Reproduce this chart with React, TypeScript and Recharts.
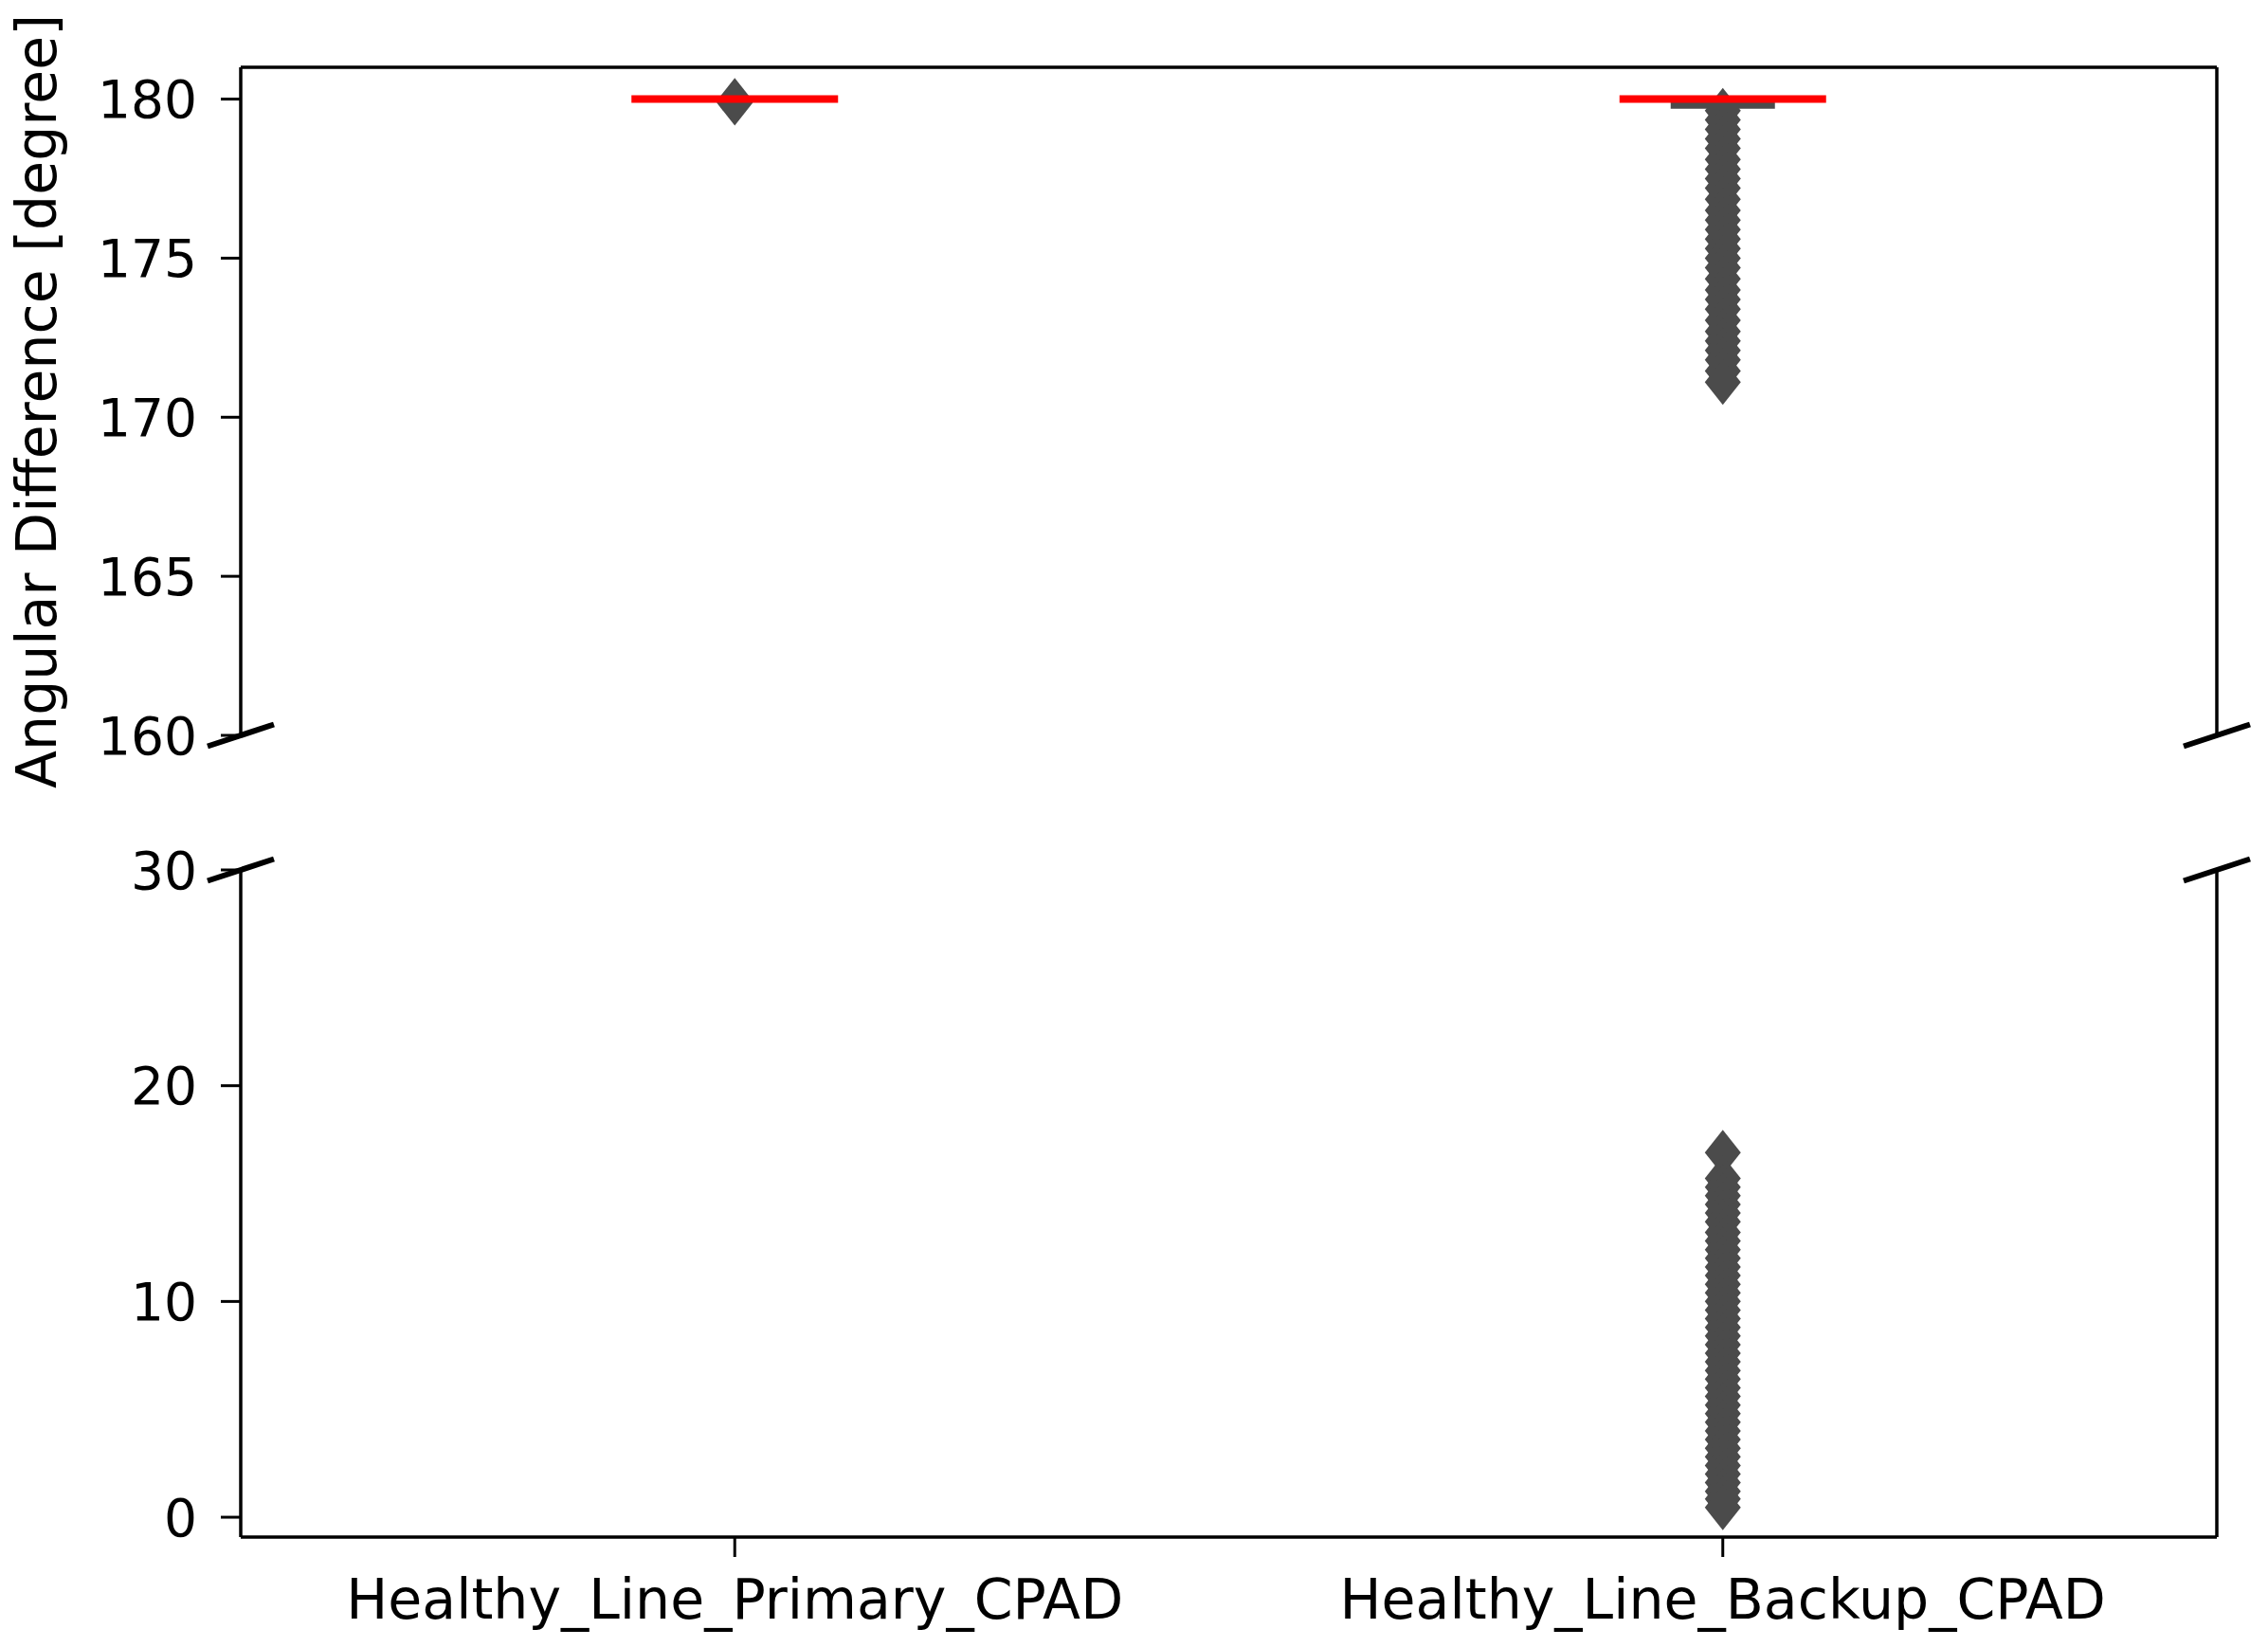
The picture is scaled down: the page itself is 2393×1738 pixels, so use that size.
import React from "react";
import { ScatterChart, Scatter, XAxis, YAxis } from "recharts";

const categories = ["Healthy_Line_Primary_CPAD", "Healthy_Line_Backup_CPAD"];
const medians = [180.0, 180.0];
const capsLow = [180.0, 179.8];
const capsHigh = [180.0, 180.0];

// outliers above the break (160-181)
const primaryTopOutliers = [179.95, 179.88];
const backupTopOutliers = [
  179.64, 179.35, 179.05, 178.75, 178.45, 178.1, 177.8, 177.5, 177.2, 176.85,
  176.5, 176.2, 175.9, 175.6, 175.3, 175.0, 174.7, 174.35, 174.0, 173.7,
  173.4, 173.05, 172.7, 172.4, 172.1, 171.8, 171.45, 171.1,
];
// outliers below the break (0-30)
const backupBottomOutliers = [
  16.9, 15.7, 15.3, 14.9, 14.5, 14.1, 13.7, 13.2, 12.8, 12.4, 12.0, 11.6,
  11.2, 10.8, 10.4, 10.0, 9.6, 9.2, 8.8, 8.4, 8.0, 7.6, 7.2, 6.8, 6.4, 6.0,
  5.6, 5.2, 4.8, 4.4, 4.0, 3.6, 3.2, 2.8, 2.4, 2.0, 1.6, 1.2, 0.85, 0.45,
];

const topDomain: [number, number] = [160, 181];
const topTicks = [160, 165, 170, 175, 180];
const bottomDomain: [number, number] = [-0.92, 30];
const bottomTicks = [0, 10, 20, 30];
const xDomain: [number, number] = [0.5, 2.5];
const xTicks = [1, 2];

const FONT = "DejaVu Sans";
const GRAY = "#4b4b4b";

const toPoints = (vals: number[], pos: number) => vals.map((y) => ({ x: pos, y }));

const medianData = medians.map((y, i) => ({ x: i + 1, y }));
const capData = [
  ...capsLow.map((y, i) => ({ x: i + 1, y })),
  ...capsHigh.map((y, i) => ({ x: i + 1, y })),
];
const topOutlierData = [
  ...toPoints(primaryTopOutliers, 1),
  ...toPoints(backupTopOutliers, 2),
];
const bottomOutlierData = toPoints(backupBottomOutliers, 2);
const topBreakData = [
  { x: xDomain[0], y: topDomain[0] },
  { x: xDomain[1], y: topDomain[0] },
];
const bottomBreakData = [
  { x: xDomain[0], y: bottomDomain[1] },
  { x: xDomain[1], y: bottomDomain[1] },
];

const Diamond = (props: any) => {
  const { cx, cy } = props;
  const w = 19;
  const h = 24;
  return (
    <polygon
      points={`${cx},${cy - h} ${cx + w},${cy} ${cx},${cy + h} ${cx - w},${cy}`}
      fill={GRAY}
    />
  );
};

const MedianLine = (props: any) => (
  <line x1={props.cx - 109} x2={props.cx + 109} y1={props.cy} y2={props.cy} stroke="#ff0000" strokeWidth={8} />
);

const CapLine = (props: any) => (
  <line x1={props.cx - 55} x2={props.cx + 55} y1={props.cy} y2={props.cy} stroke={GRAY} strokeWidth={7} />
);

const BreakMark = (props: any) => (
  <line
    x1={props.cx - 35}
    y1={props.cy + 11.5}
    x2={props.cx + 35}
    y2={props.cy - 11.5}
    stroke="#000"
    strokeWidth={6}
  />
);

const yTickStyle = { fontFamily: FONT, fontSize: 55, fill: "#000" };
const xTickStyle = { fontFamily: FONT, fontSize: 58.5, fill: "#000" };
const lineStyle = { stroke: "#000", strokeWidth: 3.5 };
const tickLineStyle = { stroke: "#000", strokeWidth: 3 };

const YLabel = (props: any) => {
  const vb = props.viewBox;
  const x = vb.x + 5;
  const y = vb.y + vb.height / 2;
  return (
    <text
      x={x}
      y={y}
      transform={`rotate(-90, ${x}, ${y})`}
      textAnchor="middle"
      fontFamily={FONT}
      fontSize={58.5}
      fill="#000"
    >
      Angular Difference [degree]
    </text>
  );
};

const App = () => {
  return (
    <div style={{ position: "absolute", left: 0, top: 0, width: 2393, height: 1738, background: "#fff" }}>
      <div style={{ position: "absolute", left: 0, top: 860 }}>
        <ScatterChart width={2393} height={878} margin={{ top: 58, right: 34, left: 54, bottom: 16 }}>
          <XAxis
            type="number"
            dataKey="x"
            domain={xDomain}
            ticks={xTicks}
            interval={0}
            height={100}
            tickSize={21}
            tickMargin={23}
            tick={xTickStyle}
            tickFormatter={(v: number) => categories[v - 1]}
            axisLine={lineStyle}
            tickLine={tickLineStyle}
          />
          <YAxis
            yAxisId="left"
            type="number"
            dataKey="y"
            domain={bottomDomain}
            ticks={bottomTicks}
            interval={0}
            width={200}
            tickSize={21}
            tickMargin={25}
            tick={yTickStyle}
            axisLine={lineStyle}
            tickLine={tickLineStyle}
          />
          <YAxis
            yAxisId="right"
            orientation="right"
            type="number"
            domain={bottomDomain}
            width={20}
            tick={false}
            tickLine={false}
            axisLine={lineStyle}
          />
          <Scatter yAxisId="left" data={bottomOutlierData} shape={Diamond} isAnimationActive={false} />
          <Scatter yAxisId="left" data={bottomBreakData} shape={BreakMark} isAnimationActive={false} />
        </ScatterChart>
      </div>
      <div style={{ position: "absolute", left: 0, top: 0 }}>
        <ScatterChart width={2393} height={860} margin={{ top: 31, right: 34, left: 54, bottom: 84 }}>
          <XAxis
            type="number"
            dataKey="x"
            orientation="top"
            domain={xDomain}
            ticks={xTicks}
            height={40}
            tick={false}
            tickSize={22}
            axisLine={lineStyle}
            tickLine={tickLineStyle}
          />
          <YAxis
            yAxisId="left"
            type="number"
            dataKey="y"
            domain={topDomain}
            ticks={topTicks}
            interval={0}
            width={200}
            tickSize={21}
            tickMargin={25}
            tick={yTickStyle}
            axisLine={lineStyle}
            tickLine={tickLineStyle}
            label={{ content: YLabel }}
          />
          <YAxis
            yAxisId="right"
            orientation="right"
            type="number"
            domain={topDomain}
            width={20}
            tick={false}
            tickLine={false}
            axisLine={lineStyle}
          />
          <Scatter yAxisId="left" data={topOutlierData} shape={Diamond} isAnimationActive={false} />
          <Scatter yAxisId="left" data={capData} shape={CapLine} isAnimationActive={false} />
          <Scatter yAxisId="left" data={medianData} shape={MedianLine} isAnimationActive={false} />
          <Scatter yAxisId="left" data={topBreakData} shape={BreakMark} isAnimationActive={false} />
        </ScatterChart>
      </div>
    </div>
  );
};

export default App;
